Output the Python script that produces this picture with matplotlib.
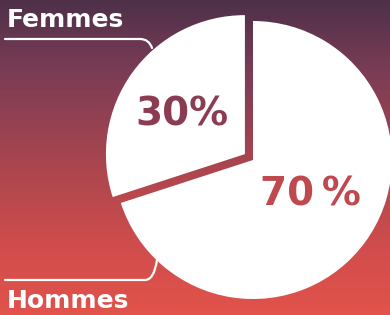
import numpy as np
import matplotlib.pyplot as plt
from matplotlib.colors import LinearSegmentedColormap
from matplotlib.path import Path
from matplotlib.patches import PathPatch

# données
categories = ['Femmes', 'Hommes']
parts = [30, 70]
pct_labels = ['30%', '70\u2009%']

W, H = 390, 315
fig = plt.figure(figsize=(W / 100, H / 100), dpi=100)
ax = fig.add_axes([0, 0, 1, 1])

# fond dégradé (haut violet foncé -> bas rouge)
grad = LinearSegmentedColormap.from_list('bg', [
    (0.0, '#4e3049'), (0.22, '#7a3c55'), (0.51, '#a8454f'),
    (0.79, '#d14d4c'), (1.0, '#e2534b')])
g = np.linspace(0, 1, 256).reshape(-1, 1)
ax.imshow(g, cmap=grad, extent=[0, W, 0, H], origin='upper', aspect='auto', zorder=0)

center = (253, 155)
radius = 139
# explode est en unités de données quand radius != 1
wedges, _ = ax.pie(parts, explode=[10, 0], startangle=90, counterclock=True,
                   colors=['white', 'white'], center=center, radius=radius,
                   frame=True, wedgeprops=dict(linewidth=0))

# pourcentages, placés dans chaque part (ligne de base = centre - demi-hauteur)
txt_colors = ['#8c3c51', '#c0484f']
for w, lab, c, dist, da in zip(wedges, pct_labels, txt_colors, [0.55, 0.47], [2, 7]):
    ang = np.deg2rad((w.theta1 + w.theta2) / 2 + da)
    cx, cy = w.center
    ax.text(cx + dist * w.r * np.cos(ang), cy + dist * w.r * np.sin(ang) - 14, lab,
            ha='center', va='baseline', fontsize=28, fontweight='bold',
            family='DejaVu Sans', color=c, zorder=5)

# étiquettes avec traits
def connector(y, x_end, y_end):
    k = 12
    verts = [(5, y), (x_end - k, y), (x_end - 3, y), (x_end, y_end)]
    codes = [Path.MOVETO, Path.LINETO, Path.CURVE3, Path.CURVE3]
    ax.add_patch(PathPatch(Path(verts, codes), fill=False, edgecolor='white',
                           lw=1.6, capstyle='round', zorder=4))

connector(276, 152, 267)
connector(35, 157, 55)

ax.text(7, 288, categories[0], fontsize=18, fontweight='bold', family='DejaVu Sans',
        color='white', ha='left', va='baseline')
ax.text(7, 7, categories[1], fontsize=18, fontweight='bold', family='DejaVu Sans',
        color='white', ha='left', va='baseline')

ax.set_xlim(0, W)
ax.set_ylim(0, H)
ax.set_aspect('auto')
ax.axis('off')

fig.savefig('out.png', dpi=100)
